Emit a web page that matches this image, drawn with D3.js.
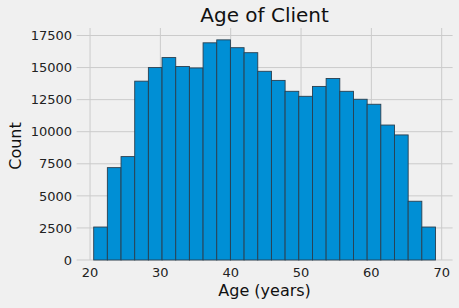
<!DOCTYPE html>
<html>
<head>
<meta charset="utf-8">
<script src="https://cdn.jsdelivr.net/npm/d3@7"></script>
<style>
  html, body { margin: 0; padding: 0; background: #f0f0f0; }
  svg { display: block; font-family: "DejaVu Sans", sans-serif; }
</style>
</head>
<body>
<svg id="chart" width="459" height="308"></svg>
<script>
// histogram counts, 25 equal bins between the youngest and oldest client
const binCounts = [2570, 7200, 8060, 13940, 15000, 15780, 15080, 14970, 16930, 17160,
                   16550, 16160, 14710, 14000, 13150, 12760, 13530, 14150, 13150, 12530,
                   12140, 10520, 9750, 4580, 2570];
const ageMin = 20.52;
const ageMax = 69.12;
const xTicks = [20, 30, 40, 50, 60, 70];
const yTicks = [0, 2500, 5000, 7500, 10000, 12500, 15000, 17500];

const svg = d3.select("#chart");

// plot area
const plotLeft = 76.6, plotRight = 452.6, plotTop = 28, plotBottom = 260;

const x = d3.scaleLinear().domain([18.09, 71.55]).range([plotLeft, plotRight]);
const y = d3.scaleLinear().domain([0, 17500]).range([plotBottom, 35.5]);

svg.append("rect").attr("width", 459).attr("height", 308).attr("fill", "#f0f0f0");

// grid
svg.selectAll(".hgrid").data(yTicks).enter().append("line")
    .attr("x1", plotLeft).attr("x2", plotRight)
    .attr("y1", d => y(d)).attr("y2", d => y(d))
    .attr("stroke", "#cbcbcb").attr("stroke-width", 1);

svg.selectAll(".vgrid").data(xTicks).enter().append("line")
    .attr("x1", d => x(d)).attr("x2", d => x(d))
    .attr("y1", plotTop).attr("y2", plotBottom)
    .attr("stroke", "#cbcbcb").attr("stroke-width", 1);

// bars
const binWidth = (ageMax - ageMin) / binCounts.length;
svg.selectAll(".bar").data(binCounts).enter().append("rect")
    .attr("x", (d, i) => x(ageMin + i * binWidth))
    .attr("width", (d, i) => x(ageMin + (i + 1) * binWidth) - x(ageMin + i * binWidth))
    .attr("y", d => y(d))
    .attr("height", d => plotBottom - y(d))
    .attr("fill", "#008fd5")
    .attr("stroke", "#2a3f4f")
    .attr("stroke-width", 0.9);

// tick labels
svg.selectAll(".ylab").data(yTicks).enter().append("text")
    .attr("x", 72).attr("y", d => y(d))
    .attr("dy", "0.36em")
    .attr("text-anchor", "end")
    .attr("font-size", 13)
    .attr("fill", "#222")
    .text(d => d);

svg.selectAll(".xlab").data(xTicks).enter().append("text")
    .attr("x", d => x(d)).attr("y", 276.5)
    .attr("text-anchor", "middle")
    .attr("font-size", 13)
    .attr("fill", "#222")
    .text(d => d);

// titles
svg.append("text")
    .attr("x", (plotLeft + plotRight) / 2).attr("y", 22)
    .attr("text-anchor", "middle")
    .attr("font-size", 20)
    .attr("fill", "#111")
    .text("Age of Client");

svg.append("text")
    .attr("x", (plotLeft + plotRight) / 2).attr("y", 296)
    .attr("text-anchor", "middle")
    .attr("font-size", 16)
    .attr("fill", "#111")
    .text("Age (years)");

svg.append("text")
    .attr("transform", "translate(21," + ((plotTop + plotBottom) / 2 + 2) + ") rotate(-90)")
    .attr("text-anchor", "middle")
    .attr("font-size", 16)
    .attr("fill", "#111")
    .text("Count");
</script>
</body>
</html>
